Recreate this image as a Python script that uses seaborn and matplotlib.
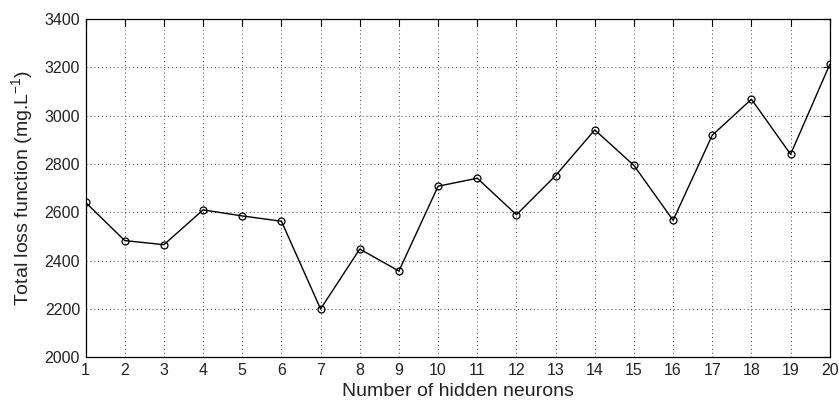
import numpy as np
import pandas as pd
import matplotlib
matplotlib.use('Agg')
import matplotlib.pyplot as plt
import seaborn as sns

neurons = list(range(1, 21))
total_loss = [2641, 2483, 2466, 2610, 2585, 2563, 2200, 2448, 2357, 2708,
              2741, 2590, 2752, 2941, 2794, 2567, 2919, 3068, 2840, 3212]
y_ticks = [2000, 2200, 2400, 2600, 2800, 3000, 3200, 3400]

df = pd.DataFrame({'neurons': neurons, 'loss': total_loss})

sns.set_style('white')
plt.rcParams['font.family'] = ['Liberation Sans', 'DejaVu Sans']
plt.rcParams['mathtext.fontset'] = 'custom'
plt.rcParams['mathtext.rm'] = 'Liberation Sans'
plt.rcParams['mathtext.it'] = 'Liberation Sans'
plt.rcParams['text.color'] = '#222222'
plt.rcParams['axes.labelcolor'] = '#222222'

fig = plt.figure(figsize=(8.39, 4.04), dpi=100)
ax = fig.add_axes([0.102, 0.1156, 0.887, 0.8374])

sns.lineplot(data=df, x='neurons', y='loss', ax=ax, color='black', linewidth=1.0,
             marker='o', markersize=5, markerfacecolor='none', markeredgecolor='black',
             markeredgewidth=0.9)

ax.set_xlim(1, 20)
ax.set_ylim(2000, 3400)
ax.set_xticks(neurons)
ax.set_yticks(y_ticks)
ax.grid(True, linestyle=(0, (1, 3)), color='#444444', linewidth=0.7)
ax.tick_params(direction='in', top=True, right=True, length=5, width=0.8,
               labelsize=11.5, colors='#222222', pad=4)
ax.tick_params(color='black')
for s in ax.spines.values():
    s.set_color('black')
    s.set_linewidth(0.9)

ax.set_xlabel('Number of hidden neurons', fontsize=14, labelpad=4)
ax.set_ylabel(r'Total loss function (mg.L$^{-1}$)', fontsize=14, labelpad=7)

fig.savefig('out.png', dpi=100)
